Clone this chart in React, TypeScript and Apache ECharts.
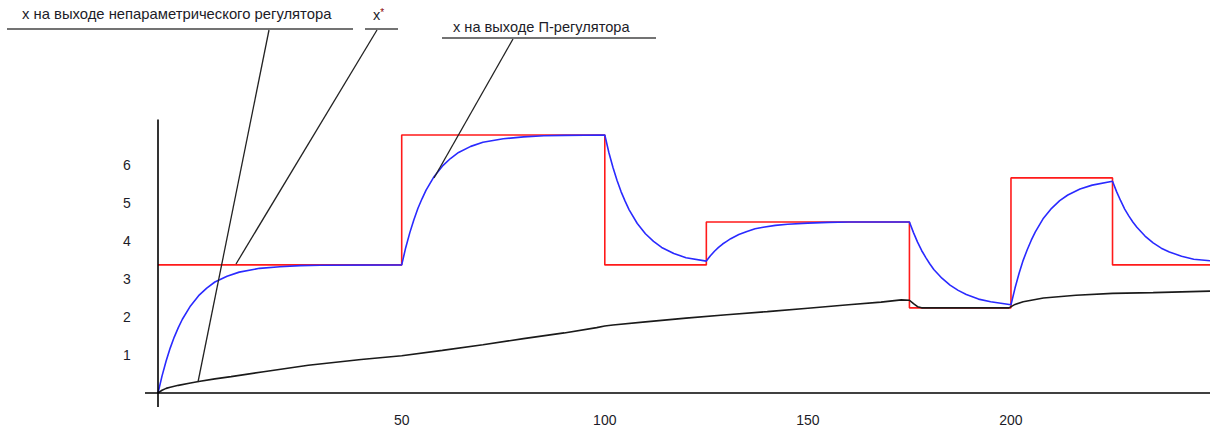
import React, { useEffect, useRef } from "react";
import * as echarts from "echarts";

// Setpoint x* (step changes): level i holds from time i to time i+1
const setpointTimes = [-10, 50, 100, 125, 175, 200, 225, 249];
const setpointLevels = [3.37, 6.79, 3.37, 4.5, 2.24, 5.66, 3.37, 3.37];

// x at the output of the P-regulator (blue)
const pTimes = [
  -10, -9, -8, -7, -6, -5, -4, -2, 0, 2, 4, 7, 10, 15, 20, 25, 30, 50,
  51, 52, 53, 54, 55, 56, 58, 60, 62, 64, 67, 70, 75, 80, 85, 90, 100,
  101, 102, 103, 104, 105, 106, 108, 110, 112, 114, 117, 120, 125,
  126, 127, 128, 129, 130, 131, 133, 135, 137, 139, 142, 145, 150, 155, 160, 175,
  176, 177, 178, 179, 180, 181, 183, 185, 187, 189, 192, 195, 200,
  201, 202, 203, 204, 205, 206, 208, 210, 212, 214, 217, 220, 225,
  226, 227, 228, 229, 230, 231, 233, 235, 237, 239, 242, 245, 249,
];
const pValues = [
  0, 0.45, 0.84, 1.18, 1.47, 1.72, 1.94, 2.29, 2.56, 2.76, 2.92, 3.07, 3.18, 3.28, 3.32, 3.35, 3.36, 3.37,
  3.83, 4.22, 4.56, 4.86, 5.11, 5.34, 5.7, 5.97, 6.17, 6.33, 6.49, 6.6, 6.69, 6.74, 6.77, 6.78, 6.79,
  6.33, 5.94, 5.6, 5.3, 5.05, 4.82, 4.46, 4.19, 3.99, 3.83, 3.67, 3.56, 3.47,
  3.61, 3.73, 3.83, 3.92, 3.99, 4.06, 4.17, 4.25, 4.32, 4.36, 4.41, 4.44, 4.47, 4.49, 4.5, 4.5,
  4.22, 3.97, 3.75, 3.57, 3.4, 3.25, 3.02, 2.84, 2.7, 2.59, 2.47, 2.4, 2.32,
  2.76, 3.15, 3.49, 3.77, 4.02, 4.24, 4.6, 4.86, 5.06, 5.21, 5.37, 5.47, 5.57,
  5.3, 5.06, 4.84, 4.66, 4.5, 4.36, 4.13, 3.95, 3.81, 3.71, 3.6, 3.52, 3.48,
];

// x at the output of the non-parametric regulator (black)
const npTimes = [
  -10, -9, -8, -7, -5, -2, 0, 4, 8, 16, 27, 40, 50, 60, 70, 80, 90, 98, 100, 102,
  110, 120, 130, 140, 150, 160, 168, 173, 175, 176, 177, 178, 199.5, 201, 203, 208,
  216, 225, 235, 249,
];
const npValues = [
  0, 0.07, 0.12, 0.15, 0.2, 0.26, 0.3, 0.37, 0.43, 0.56, 0.73, 0.88, 0.98, 1.12, 1.27, 1.43, 1.58, 1.72, 1.76, 1.79,
  1.87, 1.97, 2.06, 2.14, 2.23, 2.32, 2.39, 2.45, 2.44, 2.35, 2.27, 2.24, 2.24, 2.33, 2.4, 2.5,
  2.57, 2.62, 2.64, 2.68,
];

const xTickLabels = [50, 100, 150, 200];
const yTickLabels = [1, 2, 3, 4, 5, 6];

const labelNonParam = "x на выходе непараметрического регулятора";
const labelSetpoint = "x";
const labelSetpointMark = "*";
const labelP = "x на выходе П-регулятора";

const FONT = "'Liberation Sans', Arial, sans-serif";
const TEXT_COLOR = "#1c1c28";

export default function App() {
  const ref = useRef<HTMLDivElement>(null);

  useEffect(() => {
    document.body.style.margin = "0";
    if (!ref.current) return;
    const chart = echarts.init(ref.current, undefined, { renderer: "svg" });

    const setpointData = setpointTimes.map((t, i) => [t, setpointLevels[i]]);
    const pData = pTimes.map((t, i) => [t, pValues[i]]);
    const npData = npTimes.map((t, i) => [t, npValues[i]]);

    const annLine = (x1: number, y1: number, x2: number, y2: number, color = "#222", w = 1.3) => ({
      type: "line",
      shape: { x1, y1, x2, y2 },
      style: { stroke: color, lineWidth: w },
      z: 100,
    });

    chart.setOption({
      animation: false,
      backgroundColor: "#ffffff",
      grid: { left: 145, right: 0, top: 119.4, bottom: 20 },
      xAxis: {
        type: "value",
        min: -13.2,
        max: 249,
        axisLine: { show: false },
        axisTick: { show: false },
        splitLine: { show: false },
        axisLabel: {
          customValues: xTickLabels,
          margin: 6,
          fontSize: 14,
          fontFamily: FONT,
          color: TEXT_COLOR,
        },
      },
      yAxis: {
        type: "value",
        min: -0.37,
        max: 7.2,
        axisLine: { show: false },
        axisTick: { show: false },
        splitLine: { show: false },
        axisLabel: {
          customValues: yTickLabels,
          margin: 18,
          align: "center",
          fontSize: 14,
          fontFamily: FONT,
          color: TEXT_COLOR,
        },
      },
      series: [
        {
          name: "x*",
          type: "line",
          step: "end",
          data: setpointData,
          symbol: "none",
          lineStyle: { color: "#ff1a1a", width: 1.6 },
          z: 2,
        },
        {
          name: "x на выходе П-регулятора",
          type: "line",
          data: pData,
          symbol: "none",
          lineStyle: { color: "#2a2aff", width: 1.6 },
          z: 3,
        },
        {
          name: "x на выходе непараметрического регулятора",
          type: "line",
          data: npData,
          symbol: "none",
          lineStyle: { color: "#1a1a1a", width: 1.6 },
          z: 4,
          markLine: {
            silent: true,
            symbol: ["none", "none"],
            label: { show: false },
            lineStyle: { color: "#000000", width: 1.6, type: "solid" },
            data: [{ xAxis: -10 }, { yAxis: 0 }],
          },
        },
      ],
      graphic: [
        {
          type: "text",
          left: 22,
          top: 6,
          style: { text: labelNonParam, fontSize: 14.8, fontFamily: FONT, fill: TEXT_COLOR },
          z: 100,
        },
        annLine(7, 29, 353, 29, "#444", 1.5),
        annLine(269, 30, 198, 382),
        {
          type: "text",
          left: 373,
          top: 7,
          style: {
            text: "{a|" + labelSetpoint + "}{b|" + labelSetpointMark + "}",
            rich: {
              a: { fontSize: 14.5, fontFamily: FONT, fill: TEXT_COLOR },
              b: { fontSize: 10, fontFamily: FONT, fill: "#8a0000", verticalAlign: "top", padding: [0, 0, 6, 0] },
            },
          },
          z: 100,
        },
        annLine(365, 29, 398, 29, "#444", 1.5),
        annLine(377, 30, 236, 264),
        {
          type: "text",
          left: 453,
          top: 19,
          style: { text: labelP, fontSize: 14.6, fontFamily: FONT, fill: TEXT_COLOR },
          z: 100,
        },
        annLine(442, 38, 656, 38, "#444", 1.5),
        annLine(513, 39, 434, 178),
      ],
    });

    return () => chart.dispose();
  }, []);

  return <div ref={ref} style={{ width: 1210, height: 427 }} />;
}
